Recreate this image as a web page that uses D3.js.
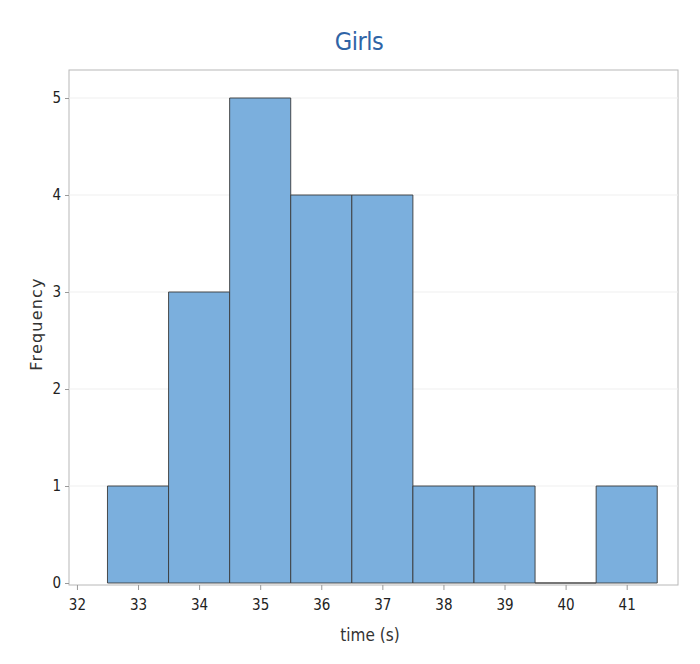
<!DOCTYPE html>
<html>
<head>
<meta charset="utf-8">
<script src="https://cdn.jsdelivr.net/npm/d3@7"></script>
<style>
  body { margin: 0; background: #fff; }
  .tick text { font-family: "DejaVu Sans Condensed", sans-serif; fill: #222; }
</style>
</head>
<body>
<div id="chart"></div>
<script>
// histogram bins (centre of each bin, 1 s wide)
var binCenters = [33, 34, 35, 36, 37, 38, 39, 40, 41];
var counts = [1, 3, 5, 4, 4, 1, 1, 0, 1];
var xTicks = [32, 33, 34, 35, 36, 37, 38, 39, 40, 41];
var yTicks = [0, 1, 2, 3, 4, 5];

var width = 700;
var height = 664;
var frameLeft = 69, frameRight = 678, frameTop = 70, frameBottom = 585;

var svg = d3.select("#chart").append("svg")
    .attr("width", width)
    .attr("height", height);

var xScale = d3.scaleLinear()
    .domain([31.87, 41.84])
    .range([frameLeft, frameRight]);

var yScale = d3.scaleLinear()
    .domain([0, 5])
    .range([583, 98]);

// frame
svg.append("rect")
    .attr("x", frameLeft)
    .attr("y", frameTop)
    .attr("width", frameRight - frameLeft)
    .attr("height", frameBottom - frameTop)
    .attr("fill", "#fff")
    .attr("stroke", "#b8b8b8")
    .attr("stroke-width", 1);

// faint gridlines
svg.selectAll(".grid")
    .data(yTicks.slice(1))
    .enter()
    .append("line")
        .attr("x1", frameLeft)
        .attr("x2", frameRight)
        .attr("y1", function(d) { return yScale(d); })
        .attr("y2", function(d) { return yScale(d); })
        .attr("stroke", "#efefef")
        .attr("stroke-width", 1);

// bars (paths so an empty bin still shows its base line)
svg.selectAll(".bar")
    .data(binCenters)
    .enter()
    .append("path")
        .attr("class", "bar")
        .attr("d", function(d, i) {
            var x0 = xScale(d - 0.5), x1 = xScale(d + 0.5);
            var y0 = yScale(0), y1 = yScale(counts[i]);
            return "M" + x0 + "," + y0 + "V" + y1 + "H" + x1 + "V" + y0 + "Z";
        })
        .attr("fill", "#7bafdd")
        .attr("stroke", "#3a3a3a")
        .attr("stroke-width", 0.9);

// axes
var xAxis = d3.axisBottom(xScale)
    .tickValues(xTicks)
    .tickFormat(d3.format("d"))
    .tickSize(5)
    .tickPadding(9);

var gx = svg.append("g")
    .attr("transform", "translate(0," + frameBottom + ")")
    .call(xAxis);
gx.select(".domain").remove();
gx.selectAll(".tick line").attr("stroke", "#999");
gx.selectAll(".tick text").style("font-size", "15px");

var yAxis = d3.axisLeft(yScale)
    .tickValues(yTicks)
    .tickFormat(d3.format("d"))
    .tickSize(4)
    .tickPadding(4);

var gy = svg.append("g")
    .attr("transform", "translate(" + frameLeft + ",0)")
    .call(yAxis);
gy.select(".domain").remove();
gy.selectAll(".tick line").attr("stroke", "#999");
gy.selectAll(".tick text").style("font-size", "15px");

// title and axis labels
svg.append("text")
    .attr("x", 359)
    .attr("y", 50)
    .attr("text-anchor", "middle")
    .style("font-family", "'DejaVu Sans Condensed', sans-serif")
    .style("font-size", "25px")
    .style("letter-spacing", "-0.5px")
    .style("fill", "#2f64a6")
    .text("Girls");

svg.append("text")
    .attr("x", 370)
    .attr("y", 641)
    .attr("text-anchor", "middle")
    .style("font-family", "'DejaVu Sans Condensed', sans-serif")
    .style("font-size", "17px")
    .style("fill", "#333")
    .text("time (s)");

svg.append("text")
    .attr("transform", "translate(42,324) rotate(-90)")
    .attr("text-anchor", "middle")
    .style("font-family", "'DejaVu Sans', sans-serif")
    .style("font-size", "16px")
    .style("letter-spacing", "1.2px")
    .style("fill", "#333")
    .text("Frequency");
</script>
</body>
</html>
